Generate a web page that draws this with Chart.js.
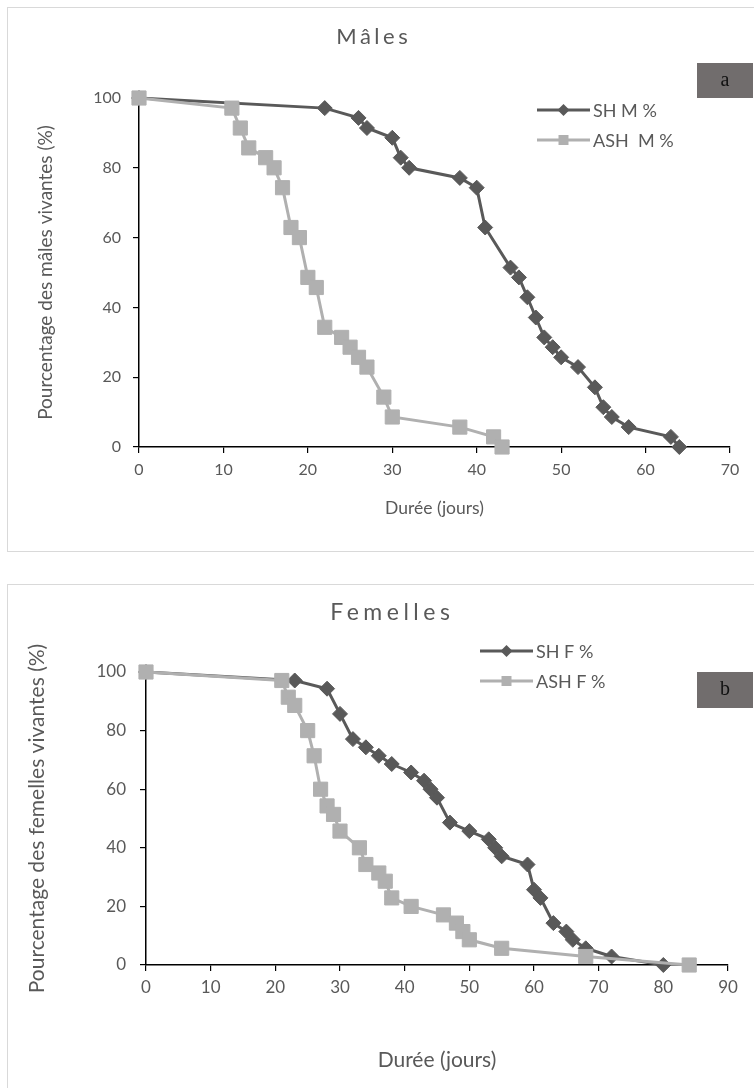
<!DOCTYPE html>
<html>
<head>
<meta charset="utf-8">
<script src="https://cdn.jsdelivr.net/npm/chart.js@4.4.0/dist/chart.umd.min.js"></script>
<style>
  html, body { margin: 0; padding: 0; background: #fff; width: 754px; height: 1088px; overflow: hidden; }
  .panel { position: absolute; left: 7px; width: 760px; border: 1px solid #d9d9d9; background: #fff; }
  #pa { top: 7px; height: 543px; }
  #pb { top: 584px; height: 510px; }
  canvas { display: block; }
</style>
</head>
<body>
<div class="panel" id="pa"><canvas id="ca" width="746" height="543"></canvas></div>
<div class="panel" id="pb"><canvas id="cb" width="746" height="503"></canvas></div>
<script>
// survie des mâles (jours, % vivants)
const maleDaysSH = [0, 22, 26, 27, 30, 31, 32, 38, 40, 41, 44, 45, 46, 47, 48, 49, 50, 52, 54, 55, 56, 58, 63, 64];
const maleSurvSH = [100, 97.1, 94.3, 91.4, 88.6, 82.9, 80, 77.1, 74.3, 62.9, 51.4, 48.6, 42.9, 37.1, 31.4, 28.6, 25.7, 22.9, 17.1, 11.4, 8.6, 5.7, 2.9, 0];
const maleDaysASH = [0, 11, 12, 13, 15, 16, 17, 18, 19, 20, 21, 22, 24, 25, 26, 27, 29, 30, 38, 42, 43];
const maleSurvASH = [100, 97.1, 91.4, 85.7, 82.9, 80, 74.3, 62.9, 60, 48.6, 45.7, 34.3, 31.4, 28.6, 25.7, 22.9, 14.3, 8.6, 5.7, 2.9, 0];

// survie des femelles
const femDaysSH = [0, 23, 28, 30, 32, 34, 36, 38, 41, 43, 44, 45, 47, 50, 53, 54, 55, 59, 60, 61, 63, 65, 66, 68, 72, 80];
const femSurvSH = [100, 97.1, 94.3, 85.7, 77.1, 74.3, 71.4, 68.6, 65.7, 62.9, 60, 57.1, 48.6, 45.7, 42.9, 40, 37.1, 34.3, 25.7, 22.9, 14.3, 11.4, 8.6, 5.7, 2.9, 0];
const femDaysASH = [0, 21, 22, 23, 25, 26, 27, 28, 29, 30, 33, 34, 36, 37, 38, 41, 46, 48, 49, 50, 55, 68, 84];
const femSurvASH = [100, 97.1, 91.4, 88.6, 80, 71.4, 60, 54.3, 51.4, 45.7, 40, 34.3, 31.4, 28.6, 22.9, 20, 17.1, 14.3, 11.4, 8.6, 5.7, 2.9, 0];

const labelsMale = ['SH M %', 'ASH  M %'];
const labelsFem = ['SH F %', 'ASH F %'];
const xMaxMale = 70, xMaxFem = 90, xStep = 10;
const yMax = 100, yStep = 20;

const DARK = '#595959';
const LIGHT = '#b0b0b0';
const TXT = '#595959';
const FONT = 'Lato, "Open Sans", sans-serif';

const zip = (xs, ys) => xs.map((x, i) => ({ x: x, y: ys[i] }));

// titre, étiquette a/b et légende dessinés à la main
const decor = {
  id: 'decor',
  afterDraw(chart, args, o) {
    const ctx = chart.ctx;
    ctx.save();
    ctx.fillStyle = TXT;
    ctx.textAlign = 'center';
    ctx.textBaseline = 'middle';
    ctx.font = o.titleSize + 'px ' + FONT;
    ctx.letterSpacing = o.spacing + 'px';
    ctx.fillText(o.title, o.titleX + o.spacing / 2, o.titleY);
    ctx.letterSpacing = '0px';

    // boîte a / b
    const b = o.box;
    ctx.fillStyle = '#716d6d';
    ctx.fillRect(b[0], b[1], b[2], b[3]);
    ctx.fillStyle = '#111';
    ctx.font = '20px "Liberation Serif", serif';
    ctx.fillText(o.tag, b[0] + b[2] / 2, b[1] + b[3] / 2);

    // légende
    const lg = o.legend;
    chart.data.datasets.forEach((ds, i) => {
      const y = lg.y + i * lg.gap;
      ctx.strokeStyle = ds.borderColor;
      ctx.lineWidth = 3;
      ctx.beginPath();
      ctx.moveTo(lg.x, y);
      ctx.lineTo(lg.x + lg.len, y);
      ctx.stroke();
      const cx = lg.x + lg.len / 2;
      ctx.fillStyle = ds.borderColor;
      ctx.beginPath();
      if (ds.pointStyle === 'rectRot') {
        ctx.moveTo(cx, y - 6); ctx.lineTo(cx + 6, y); ctx.lineTo(cx, y + 6); ctx.lineTo(cx - 6, y);
      } else {
        ctx.rect(cx - 5, y - 5, 10, 10);
      }
      ctx.closePath();
      ctx.fill();
      ctx.fillStyle = TXT;
      ctx.textAlign = 'left';
      ctx.font = lg.size + 'px ' + FONT;
      ctx.fillText(ds.label, lg.x + lg.len + 3, y + 1);
    });
    ctx.restore();
  }
};

function makeChart(id, p) {
  const datasets = [
    {
      label: p.labels[0], data: p.sh, order: 1, clip: false,
      borderColor: DARK, backgroundColor: DARK, borderWidth: 3,
      pointStyle: 'rectRot', pointRadius: 7.5, pointBorderWidth: 1, pointBorderColor: DARK,
      pointBackgroundColor: DARK
    },
    {
      label: p.labels[1], data: p.ash, order: 0, clip: false,
      borderColor: LIGHT, backgroundColor: LIGHT, borderWidth: 3,
      pointStyle: 'rect', pointRadius: 10, pointBorderWidth: 1, pointBorderColor: LIGHT,
      pointBackgroundColor: LIGHT
    }
  ];
  return new Chart(document.getElementById(id), {
    type: 'line',
    data: { datasets },
    options: {
      responsive: false,
      animation: false,
      layout: { padding: { left: 0, top: p.area.top, right: p.w - p.area.right, bottom: 0 } },
      plugins: {
        legend: { display: false },
        tooltip: { enabled: false },
        decor: p.decor
      },
      scales: {
        x: {
          type: 'linear', min: 0, max: p.xMax,
          ticks: { stepSize: xStep, color: TXT, padding: p.xPad, font: { family: FONT, size: p.tick } },
          grid: { drawOnChartArea: false, tickLength: 6, color: '#000', lineWidth: 1.2 },
          border: { color: '#000', width: 1.5 },
          title: { display: true, text: 'Durée (jours)', color: TXT, font: { family: FONT, size: p.xt }, padding: { top: 0, bottom: p.xtPad } },
          afterFit: s => { s.height = p.h - p.area.bottom; }
        },
        y: {
          min: 0, max: yMax,
          ticks: { stepSize: yStep, color: TXT, padding: p.yPad, font: { family: FONT, size: p.tick } },
          grid: { drawOnChartArea: false, tickLength: 6, color: '#000', lineWidth: 1.2 },
          border: { color: '#000', width: 1.5 },
          title: { display: true, text: p.yTitle, color: TXT, font: { family: FONT, size: p.yt }, padding: { top: p.ytPad, bottom: 0 } },
          afterFit: s => { s.width = p.area.left; }
        }
      }
    },
    plugins: [decor]
  });
}

makeChart('ca', {
  w: 746, h: 543,
  area: { left: 131, right: 722, top: 90, bottom: 439 },
  xMax: xMaxMale, tick: 16, xt: 17.5, yt: 19, xtPad: 32, ytPad: 26, yPad: 12, xPad: 7,
  yTitle: 'Pourcentage des mâles vivantes (%)',
  labels: labelsMale,
  sh: zip(maleDaysSH, maleSurvSH), ash: zip(maleDaysASH, maleSurvASH),
  decor: {
    title: 'Mâles', titleX: 364, titleY: 29, titleSize: 22, spacing: 3.5, tag: 'a',
    box: [689, 55, 56, 35],
    legend: { x: 529, y: 102, gap: 30, len: 53, size: 18 }
  }
});

makeChart('cb', {
  w: 746, h: 503,
  area: { left: 138, right: 720, top: 87, bottom: 380 },
  xMax: xMaxFem, tick: 17, xt: 21, yt: 21, xtPad: 15, ytPad: 17, yPad: 14, xPad: 6,
  yTitle: 'Pourcentage des femelles vivantes (%)',
  labels: labelsFem,
  sh: zip(femDaysSH, femSurvSH), ash: zip(femDaysASH, femSurvASH),
  decor: {
    title: 'Femelles', titleX: 382, titleY: 28, titleSize: 23, spacing: 4.5, tag: 'b',
    box: [689, 87, 56, 36],
    legend: { x: 472, y: 66, gap: 30, len: 53, size: 18 }
  }
});
</script>
</body>
</html>
